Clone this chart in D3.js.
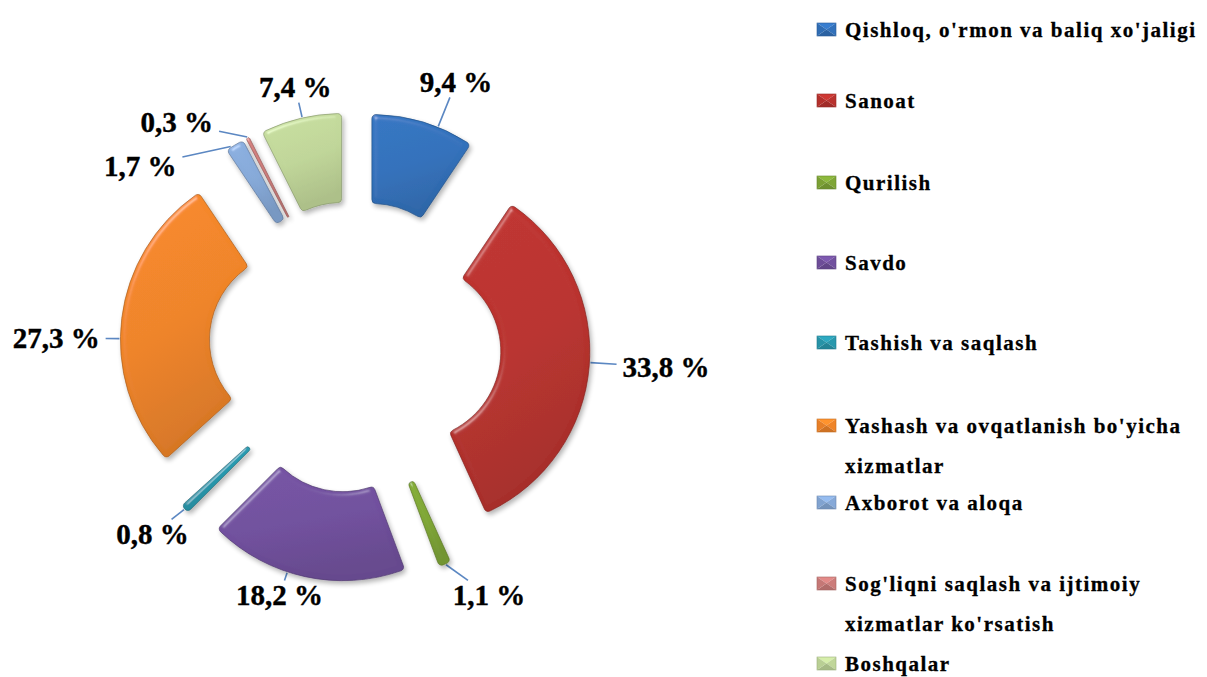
<!DOCTYPE html>
<html>
<head>
<meta charset="utf-8">
<script src="https://cdn.jsdelivr.net/npm/d3@7"></script>
<style>
  html, body { margin: 0; padding: 0; background: #ffffff; }
  svg { display: block; }
</style>
</head>
<body>
<svg id="chart" width="1207" height="677"></svg>
<script>
// ---------------- data ----------------
const categories = [
  "Qishloq, o'rmon va baliq xo'jaligi",
  "Sanoat",
  "Qurilish",
  "Savdo",
  "Tashish va saqlash",
  "Yashash va ovqatlanish bo'yicha\nxizmatlar",
  "Axborot va aloqa",
  "Sog'liqni saqlash  va ijtimoiy\nxizmatlar ko'rsatish",
  "Boshqalar"
];
const values = [9.4, 33.8, 1.1, 18.2, 0.8, 27.3, 1.7, 0.3, 7.4];

// ---------------- styles / layout ----------------
const palette = ["#3271bb", "#b9322e", "#7fa636", "#71509e", "#2898ad",
                 "#ef8428", "#86a9d8", "#cc7c7a", "#c0d699"];
const cx = 355, cy = 347;
const rOuter = 177, rInner = 88, explode = 58, labelR = 285;
// label nudges relative to the default polar label position
const labelNudge = [[18, 8], [27, -3], [25, -15], [-15, -30], [4, -9],
                    [-16, 26], [-69, 64], [-48, 29], [6, 18]];
const legendX = 817, legendTextX = 845;
const legendBaselines = [37, 108, 190, 270, 350, 433, 510, 591, 671];
const legendLineStep = 40;

const fmt = v => d3.format(".1f")(v).replace(".", ",") + " %";

const svg = d3.select("#chart");
const defs = svg.append("defs");

// bevel + shadow filter
const f = defs.append("filter").attr("id", "bevel")
  .attr("x", "-30%").attr("y", "-30%").attr("width", "160%").attr("height", "160%");
f.append("feGaussianBlur").attr("in", "SourceAlpha").attr("stdDeviation", 2.5).attr("result", "blur");
const spec = f.append("feSpecularLighting").attr("in", "blur")
  .attr("surfaceScale", 3).attr("specularConstant", 0.7).attr("specularExponent", 40)
  .attr("lighting-color", "#ffffff").attr("result", "spec");
spec.append("feDistantLight").attr("azimuth", 235).attr("elevation", 40);
f.append("feComposite").attr("in", "spec").attr("in2", "SourceAlpha").attr("operator", "in").attr("result", "specIn");
f.append("feComposite").attr("in", "SourceGraphic").attr("in2", "specIn")
  .attr("operator", "arithmetic").attr("k1", 0).attr("k2", 1).attr("k3", 0.35).attr("k4", 0).attr("result", "lit");
f.append("feOffset").attr("in", "SourceAlpha").attr("dx", 2).attr("dy", 3).attr("result", "off");
f.append("feGaussianBlur").attr("in", "off").attr("stdDeviation", 2.5).attr("result", "sh");
const ct = f.append("feComponentTransfer").attr("in", "sh").attr("result", "sh2");
ct.append("feFuncA").attr("type", "linear").attr("slope", 0.3);
const mg = f.append("feMerge");
mg.append("feMergeNode").attr("in", "sh2");
mg.append("feMergeNode").attr("in", "lit");

// gradients per slice
palette.forEach((c, i) => {
  const g = defs.append("linearGradient").attr("id", "grad" + i)
    .attr("x1", 0).attr("y1", 0).attr("x2", 0.3).attr("y2", 1);
  g.append("stop").attr("offset", "0%").attr("stop-color", d3.color(c).brighter(0.12));
  g.append("stop").attr("offset", "55%").attr("stop-color", c);
  g.append("stop").attr("offset", "100%").attr("stop-color", d3.color(c).darker(0.3));
});

const pie = d3.pie().sort(null).value(d => d);
const arcs = pie(values);
const arc = d3.arc().innerRadius(rInner).outerRadius(rOuter).cornerRadius(4);

const chart = svg.append("g");

arcs.forEach((a, i) => {
  const mid = (a.startAngle + a.endAngle) / 2;
  a.mid = mid;
  a.sx = cx + explode * Math.sin(mid);
  a.sy = cy - explode * Math.cos(mid);
});

chart.selectAll("path.slice").data(arcs).join("path")
  .attr("class", "slice")
  .attr("transform", d => `translate(${d.sx},${d.sy})`)
  .attr("d", arc)
  .attr("fill", (d, i) => `url(#grad${i})`)
  .attr("stroke", (d, i) => d3.color(palette[i]).darker(1))
  .attr("stroke-width", 0.9)
  .attr("stroke-opacity", 0.75)
  .attr("filter", "url(#bevel)");

// labels
const labelG = svg.append("g");
const labels = labelG.selectAll("text").data(arcs).join("text")
  .attr("x", (d, i) => cx + labelR * Math.sin(d.mid) + labelNudge[i][0])
  .attr("y", (d, i) => cy - labelR * Math.cos(d.mid) + labelNudge[i][1])
  .attr("dy", "0.33em")
  .attr("text-anchor", "middle")
  .attr("font-family", "'Liberation Serif', 'Times New Roman', serif")
  .attr("font-weight", "bold")
  .attr("font-size", 29)
  .attr("fill", "#000")
  .attr("stroke", "#000")
  .attr("stroke-width", 0.4)
  .text(d => fmt(d.data));

// leader lines
labels.each(function(d, i) {
  const lx = +this.getAttribute("x"), ly = +this.getAttribute("y");
  const w = this.getComputedTextLength();
  const h = 20;
  let ang = Math.atan2(lx - d.sx, -(ly - d.sy));
  ang = d.mid + (((ang - d.mid) % (2 * Math.PI)) + 3 * Math.PI) % (2 * Math.PI) - Math.PI;
  const inset = Math.min(0.03, (d.endAngle - d.startAngle) / 2);
  ang = Math.max(d.startAngle + inset, Math.min(d.endAngle - inset, ang));
  const px = d.sx + (rOuter + 1) * Math.sin(ang);
  const py = d.sy - (rOuter + 1) * Math.cos(ang);
  const vx = lx - px, vy = ly - py;
  const Wp = w / 2 + 6, Hp = h / 2 + 5;
  let t = Math.max(Math.abs(vx) > 0 ? 1 - Wp / Math.abs(vx) : -1,
                   Math.abs(vy) > 0 ? 1 - Hp / Math.abs(vy) : -1);
  t = Math.max(0, t);
  svg.insert("line", "g")
    .attr("x1", px).attr("y1", py)
    .attr("x2", px + t * vx).attr("y2", py + t * vy)
    .attr("stroke", "#5b87c2").attr("stroke-width", 1.6);
});

// legend
const legend = svg.append("g");
categories.forEach((name, i) => {
  const y = legendBaselines[i];
  const c = palette[i];
  const sw = 19, sh = 13, sx = legendX, sy = y - 14;
  const gi = legend.append("g");
  const mxp = sx + sw / 2, myp = sy + sh / 2;
  const tri = (pts, col) => gi.append("path")
    .attr("d", d3.line()(pts) + "Z").attr("fill", col);
  tri([[sx, sy], [sx + sw, sy], [mxp, myp]], d3.color(c).brighter(0.3));
  tri([[sx + sw, sy], [sx + sw, sy + sh], [mxp, myp]], c);
  tri([[sx, sy + sh], [sx + sw, sy + sh], [mxp, myp]], d3.color(c).darker(0.4));
  tri([[sx, sy], [sx, sy + sh], [mxp, myp]], d3.color(c).darker(0.1));
  gi.append("rect").attr("x", sx).attr("y", sy).attr("width", sw).attr("height", sh)
    .attr("fill", "none").attr("stroke", d3.color(c).darker(0.6)).attr("stroke-width", 0.6);
  name.split("\n").forEach((line, k) => {
    legend.append("text")
      .attr("x", legendTextX).attr("y", y + k * legendLineStep)
      .attr("font-family", "'Liberation Serif', 'Times New Roman', serif")
      .attr("font-weight", "bold").attr("font-size", 21)
      .attr("letter-spacing", 1.5)
      .attr("fill", "#000")
      .attr("stroke", "#000")
      .attr("stroke-width", 0.3)
      .text(line);
  });
});
</script>
</body>
</html>
